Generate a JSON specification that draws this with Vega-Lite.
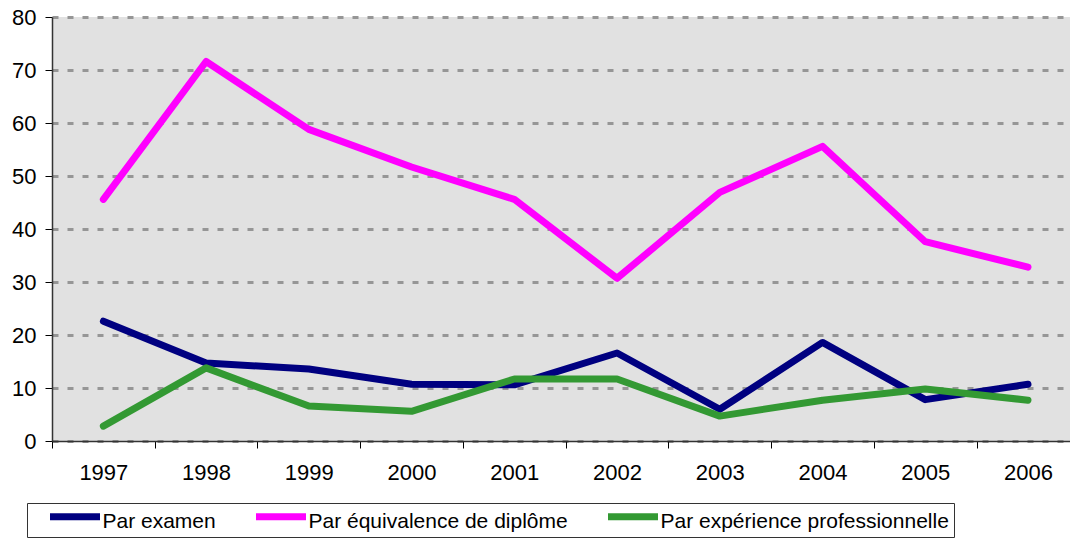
{
  "$schema": "https://vega.github.io/schema/vega-lite/v6.json",
  "width": 1018,
  "height": 424,
  "autosize": {"type": "none"},
  "padding": {"left": 52, "top": 17, "right": 0, "bottom": 100},
  "background": "white",
  "config": {
    "view": {"fill": "#E1E1E1", "stroke": null},
    "font": "Liberation Sans"
  },
  "data": {
    "values": [
      {"year": 1997, "serie": "Par examen", "value": 22.6},
      {"year": 1998, "serie": "Par examen", "value": 14.7},
      {"year": 1999, "serie": "Par examen", "value": 13.6},
      {"year": 2000, "serie": "Par examen", "value": 10.7},
      {"year": 2001, "serie": "Par examen", "value": 10.6},
      {"year": 2002, "serie": "Par examen", "value": 16.6},
      {"year": 2003, "serie": "Par examen", "value": 6.0},
      {"year": 2004, "serie": "Par examen", "value": 18.6},
      {"year": 2005, "serie": "Par examen", "value": 7.8},
      {"year": 2006, "serie": "Par examen", "value": 10.7},
      {"year": 1997, "serie": "Par équivalence de diplôme", "value": 45.6},
      {"year": 1998, "serie": "Par équivalence de diplôme", "value": 71.6},
      {"year": 1999, "serie": "Par équivalence de diplôme", "value": 58.8},
      {"year": 2000, "serie": "Par équivalence de diplôme", "value": 51.7},
      {"year": 2001, "serie": "Par équivalence de diplôme", "value": 45.6},
      {"year": 2002, "serie": "Par équivalence de diplôme", "value": 30.7},
      {"year": 2003, "serie": "Par équivalence de diplôme", "value": 46.9},
      {"year": 2004, "serie": "Par équivalence de diplôme", "value": 55.6},
      {"year": 2005, "serie": "Par équivalence de diplôme", "value": 37.6},
      {"year": 2006, "serie": "Par équivalence de diplôme", "value": 32.8},
      {"year": 1997, "serie": "Par expérience professionnelle", "value": 2.8},
      {"year": 1998, "serie": "Par expérience professionnelle", "value": 13.8},
      {"year": 1999, "serie": "Par expérience professionnelle", "value": 6.6},
      {"year": 2000, "serie": "Par expérience professionnelle", "value": 5.6},
      {"year": 2001, "serie": "Par expérience professionnelle", "value": 11.7},
      {"year": 2002, "serie": "Par expérience professionnelle", "value": 11.7},
      {"year": 2003, "serie": "Par expérience professionnelle", "value": 4.7},
      {"year": 2004, "serie": "Par expérience professionnelle", "value": 7.7},
      {"year": 2005, "serie": "Par expérience professionnelle", "value": 9.8},
      {"year": 2006, "serie": "Par expérience professionnelle", "value": 7.7}
    ]
  },
  "mark": {"type": "line", "strokeWidth": 7, "strokeCap": "round", "strokeJoin": "round"},
  "encoding": {
    "x": {
      "field": "year",
      "type": "quantitative",
      "scale": {"domain": [1996.5, 2006.409], "nice": false, "zero": false},
      "axis": {
        "title": null,
        "values": [1996.5, 1997.5, 1998.5, 1999.5, 2000.5, 2001.5, 2002.5, 2003.5, 2004.5, 2005.5],
        "labelExpr": "format(datum.value + 0.5, 'd')",
        "labelOffset": 51.35,
        "labelAlign": "center",
        "labelFontSize": 22,
        "labelColor": "#000000",
        "labelPadding": 14,
        "labelOverlap": false,
        "labelBound": false,
        "labelFlush": false,
        "tickSize": 7,
        "tickColor": "#000000",
        "tickWidth": 1,
        "domainColor": "#333333",
        "domainWidth": 1.5,
        "grid": false
      }
    },
    "y": {
      "field": "value",
      "type": "quantitative",
      "scale": {"domain": [0, 80], "nice": false},
      "axis": {
        "title": null,
        "values": [0, 10, 20, 30, 40, 50, 60, 70, 80],
        "labelFontSize": 22,
        "labelColor": "#000000",
        "labelPadding": 9,
        "tickSize": 7,
        "tickColor": "#000000",
        "domainColor": "#333333",
        "domainWidth": 1.5,
        "grid": true,
        "gridColor": "#969696",
        "gridWidth": 3,
        "gridDash": [6, 9]
      }
    },
    "color": {
      "field": "serie",
      "type": "nominal",
      "scale": {
        "domain": ["Par examen", "Par équivalence de diplôme", "Par expérience professionnelle"],
        "range": ["#000080", "#FF00FF", "#339933"]
      },
      "legend": {
        "title": null,
        "orient": "none",
        "legendX": -25,
        "legendY": 486,
        "direction": "horizontal",
        "columns": 3,
        "symbolType": "M-2.5,-0.5H2.5",
        "symbolSize": 400,
        "symbolStrokeWidth": 7,
        "symbolOffset": 29.5,
        "labelFontSize": 21,
        "labelColor": "#000000",
        "labelOffset": 14,
        "labelBaseline": "middle",
        "labelLimit": 400,
        "columnPadding": 22,
        "padding": 5,
        "strokeColor": "#333333",
        "fillColor": "#FFFFFF"
      }
    }
  }
}
